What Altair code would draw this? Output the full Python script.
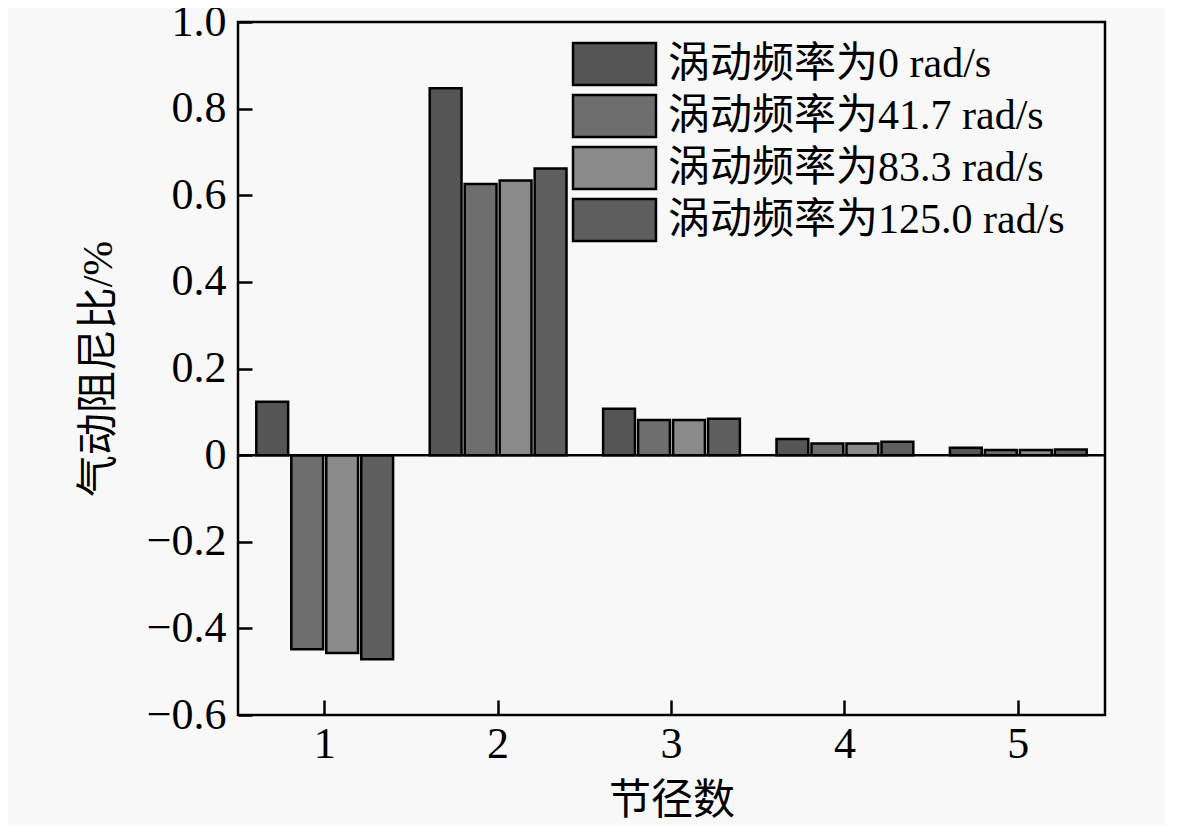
import altair as alt
import pandas as pd

categories = ["1", "2", "3", "4", "5"]
series = ["涡动频率为0 rad/s", "涡动频率为41.7 rad/s", "涡动频率为83.3 rad/s", "涡动频率为125.0 rad/s"]
v0 = [0.123, 0.847, 0.107, 0.037, 0.017]
v1 = [-0.448, 0.626, 0.081, 0.027, 0.012]
v2 = [-0.457, 0.634, 0.081, 0.027, 0.012]
v3 = [-0.471, 0.662, 0.084, 0.031, 0.013]
fills = ["#555555", "#6e6e6e", "#8a8a8a", "#5e5e5e"]
y_ticks = [-0.6, -0.4, -0.2, 0, 0.2, 0.4, 0.6, 0.8, 1.0]

rows = []
for s, vals in zip(series, [v0, v1, v2, v3]):
    for c, v in zip(categories, vals):
        rows.append({"节径数": c, "系列": s, "值": v})
df = pd.DataFrame(rows)

FONT = "Liberation Serif, Times New Roman, Noto Sans CJK SC"

bars = alt.Chart(df).mark_bar(stroke="black", strokeWidth=2.5).encode(
    x=alt.X("节径数:N", sort=categories,
            scale=alt.Scale(paddingInner=0.193, paddingOuter=0.0965),
            axis=alt.Axis(title="节径数", labelAngle=0, tickSize={"expr": "-15"},
                          domain=False, labelPadding=22, titlePadding=14)),
    xOffset=alt.XOffset("系列:N", sort=series,
                        scale=alt.Scale(paddingInner=0.09, paddingOuter=0.045)),
    y=alt.Y("值:Q", scale=alt.Scale(domain=[-0.6, 1.0], nice=False),
            axis=alt.Axis(title="气动阻尼比/%", values=y_ticks, tickSize={"expr": "-14"},
                          domain=False, labelPadding=26, titlePadding=26,
                          labelExpr="datum.value == 0 ? '0' : replace(format(datum.value, '.1f'), '-', '−')")),
    fill=alt.Fill("系列:N", sort=series,
                  scale=alt.Scale(domain=series, range=fills),
                  legend=alt.Legend(title=None, orient="none", legendX=355.5, legendY=21,
                                    symbolType="M-3.95,-2H3.95V2H-3.95Z", symbolSize=441,
                                    symbolStrokeColor="black", symbolStrokeWidth=2.5,
                                    labelFontSize=42, labelFont=FONT, labelColor="black",
                                    labelOffset=32.5, rowPadding=0, labelLimit=600)),
)

zero = alt.Chart(pd.DataFrame({"y": [0]})).mark_rule(color="black", strokeWidth=2.5).encode(
    y=alt.Y("y:Q")
)

chart = alt.layer(bars, zero).properties(
    width=867, height=693,
    autosize=alt.AutoSizeParams(type="none"),
    padding={"left": 230, "top": 14, "right": 60, "bottom": 110},
    background="#f8f8f8",
).configure_view(
    stroke="black", strokeWidth=2.5, fill="#f8f8f8"
).configure_axis(
    labelFont=FONT, titleFont=FONT, labelFontSize=44, titleFontSize=42,
    labelColor="black", titleColor="black", tickColor="black", tickWidth=2.5,
    titleFontWeight="normal", grid=False,
)

chart.save("out.html", embed_options={"renderer": "svg", "actions": False})
